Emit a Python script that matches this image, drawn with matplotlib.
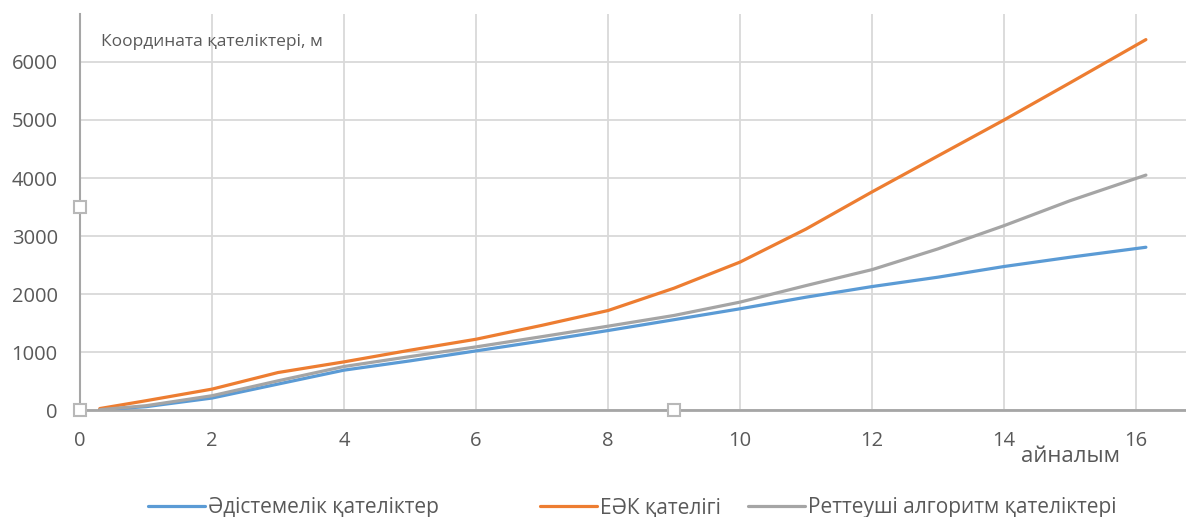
import matplotlib
matplotlib.use("Agg")
import matplotlib.pyplot as plt

plt.rcParams['font.family'] = ['Open Sans', 'DejaVu Sans']

# Data
x_vals = [0.3, 1, 2, 3, 4, 5, 6, 7, 8, 9, 10, 11, 12, 13, 14, 15, 16.15]
method_err = [5, 57, 206, 447, 687, 847, 1019, 1191, 1370, 1557, 1745, 1945, 2128, 2290, 2474, 2634, 2806]
eak_err = [25, 160, 360, 646, 830, 1031, 1220, 1460, 1715, 2100, 2550, 3120, 3760, 4381, 5000, 5641, 6386]
reg_err = [5, 74, 246, 503, 750, 921, 1088, 1265, 1445, 1630, 1860, 2145, 2420, 2778, 3178, 3608, 4050]

series_names = ['Әдістемелік қателіктер', 'ЕӘК қателігі', 'Реттеуші алгоритм қателіктері']
series_colors = ['#5B9BD5', '#ED7D31', '#A5A5A5']
x_ticks = [0, 2, 4, 6, 8, 10, 12, 14, 16]
y_ticks = [0, 1000, 2000, 3000, 4000, 5000, 6000]
y_title = 'Координата қателіктері, м'
x_title = 'айналым'

W, H = 1186, 517
fig = plt.figure(figsize=(W / 100, H / 100), dpi=100)
ax = fig.add_axes([80 / W, (H - 410) / H, (W - 80) / W, (410 - 14) / H])

handles = []
for ys, name, col in zip([method_err, eak_err, reg_err], series_names, series_colors):
    h, = ax.plot(x_vals, ys, color=col, lw=2.3, label=name, solid_capstyle='round', zorder=3)
    handles.append(h)

ax.set_xlim(0, (W - 80) / 66.0)
ax.set_ylim(0, 396 / 58.0 * 1000)
ax.set_xticks(x_ticks)
ax.set_yticks(y_ticks)
ax.grid(True, color='#d9d9d9', lw=1.3)
ax.set_axisbelow(True)
for s in ['top', 'right']:
    ax.spines[s].set_visible(False)
ax.spines['left'].set_color('#a6a6a6')
ax.spines['left'].set_linewidth(1.5)
ax.spines['bottom'].set_color('#a6a6a6')
ax.spines['bottom'].set_linewidth(2.0)
ax.tick_params(axis='both', length=0, labelsize=14.5, labelcolor='#595959')
ax.tick_params(axis='y', pad=16)
ax.tick_params(axis='x', pad=15)

ax.text((101 - 80) / (W - 80), (410 - 42) / 396, y_title, transform=ax.transAxes,
        fontsize=12.5, color='#595959', va='center', ha='left')
ax.text((1070 - 80) / (W - 80), -(457 - 410) / 396, x_title, transform=ax.transAxes,
        fontsize=16, color='#595959', va='center', ha='center')

# Selection handles visible in the reference
for hx, hy in [(0.0, (410 - 207) / 396), (0.0, 0.0), ((674 - 80) / (W - 80), 0.0)]:
    ax.plot([hx], [hy], marker='s', ms=9, mfc='white', mec='#b8b8b8', mew=1.5,
            transform=ax.transAxes, clip_on=False, zorder=5)

# Legend entries (one per series, positioned as in the reference)
leg_x = [148, 540, 748]
for h, lx in zip(handles, leg_x):
    lg = fig.legend(handles=[h], loc='center left', bbox_to_anchor=(lx / W, (H - 508) / H),
                    frameon=False, fontsize=15, handlelength=2.75, handletextpad=0.15,
                    borderpad=0, borderaxespad=0, labelcolor='#595959')

fig.savefig('out.png', dpi=100)
